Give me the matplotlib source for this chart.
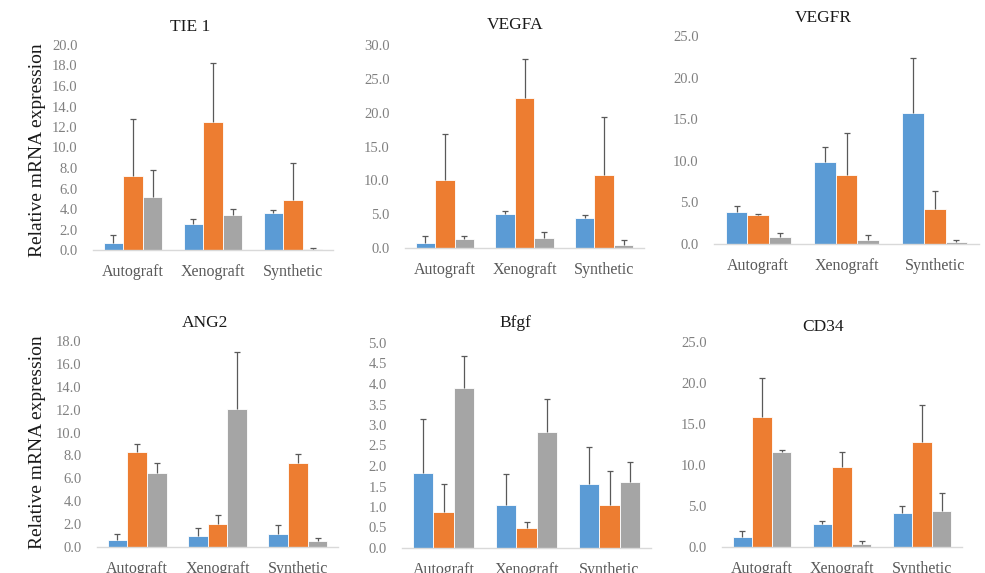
import matplotlib
matplotlib.use("Agg")
import matplotlib.pyplot as plt
import numpy as np

W, H = 985, 573
categories = ["Autograft", "Xenograft", "Synthetic"]
series_colors = ["#5B9BD5", "#ED7D31", "#A5A5A5"]

titles = ["TIE 1", "VEGFA", "VEGFR", "ANG2", "Bfgf", "CD34"]

# values per panel: [blue, orange, gray] x categories
tie1_vals = [[0.7, 2.5, 3.6], [7.2, 12.5, 4.9], [5.2, 3.4, 0.05]]
tie1_err = [[0.8, 0.5, 0.3], [5.6, 5.7, 3.6], [2.6, 0.6, 0.1]]

vegfa_vals = [[0.8, 5.0, 4.4], [10.1, 22.1, 10.8], [1.4, 1.5, 0.5]]
vegfa_err = [[0.9, 0.5, 0.5], [6.8, 5.9, 8.5], [0.4, 0.9, 0.7]]

vegfr_vals = [[3.9, 9.8, 15.8], [3.5, 8.3, 4.2], [0.8, 0.5, 0.2]]
vegfr_err = [[0.7, 1.8, 6.6], [0.1, 5.0, 2.2], [0.5, 0.6, 0.3]]

ang2_vals = [[0.6, 1.0, 1.1], [8.3, 2.0, 7.3], [6.5, 12.1, 0.5]]
ang2_err = [[0.5, 0.7, 0.8], [0.7, 0.8, 0.8], [0.8, 4.9, 0.3]]

bfgf_vals = [[1.83, 1.05, 1.55], [0.88, 0.48, 1.05], [3.9, 2.83, 1.6]]
bfgf_err = [[1.32, 0.75, 0.92], [0.69, 0.15, 0.82], [0.78, 0.8, 0.5]]

cd34_vals = [[1.2, 2.8, 4.2], [15.8, 9.8, 12.8], [11.6, 0.4, 4.4]]
cd34_err = [[0.8, 0.4, 0.8], [4.8, 1.8, 4.5], [0.2, 0.3, 2.2]]

y_max = [20, 30, 25, 18, 5, 25]
y_step = [2, 5, 5, 2, 0.5, 5]

all_vals = [tie1_vals, vegfa_vals, vegfr_vals, ang2_vals, bfgf_vals, cd34_vals]
all_errs = [tie1_err, vegfa_err, vegfr_err, ang2_err, bfgf_err, cd34_err]

# layout in pixels: (x_left, x_right, y_zero, y_top, title_x, title_y)
layout = [
    (93, 333, 250, 45, 190, 27),
    (405, 644, 248, 45, 515, 25),
    (714, 979, 244, 36, 823, 18),
    (97, 338, 547, 341, 205, 323),
    (402, 651, 548, 343, 515, 323),
    (722, 962, 547, 342, 823, 327),
]

serif = ["Liberation Serif", "DejaVu Serif"]
plt.rcParams["font.family"] = serif

fig = plt.figure(figsize=(W / 100, H / 100), dpi=100)

for i in range(6):
    xl, xr, y0, yt, tx, ty = layout[i]
    ax = fig.add_axes([xl / W, 1 - y0 / H, (xr - xl) / W, (y0 - yt) / H])
    vals = all_vals[i]
    errs = all_errs[i]
    x = np.arange(len(categories))
    bw = 0.245
    for s in range(3):
        pos = x + (s - 1) * bw
        ax.bar(pos, vals[s], width=bw, color=series_colors[s], edgecolor="white",
               linewidth=0.6, zorder=2)
        eb = ax.errorbar(pos, vals[s], yerr=[np.zeros(3), errs[s]], fmt="none",
                         ecolor="#595959", elinewidth=0.9, capsize=2, capthick=0.9,
                         zorder=3)
        caps = eb[1]
        if len(caps) >= 2:
            caps[0].set_visible(False)
    ax.set_xlim(-0.5, 2.5)
    ax.set_ylim(0, y_max[i])
    ax.set_yticks(np.arange(0, y_max[i] + y_step[i] / 2, y_step[i]))
    ax.yaxis.set_major_formatter(matplotlib.ticker.FormatStrFormatter("%.1f"))
    ax.set_xticks(x)
    ax.set_xticklabels(categories)
    for sp in ["top", "right", "left"]:
        ax.spines[sp].set_visible(False)
    ax.spines["bottom"].set_color("#D9D9D9")
    ax.spines["bottom"].set_linewidth(1.0)
    ax.tick_params(axis="y", length=0, pad=11, labelsize=10.5, labelcolor="#808080")
    ax.tick_params(axis="x", length=0, pad=10, labelsize=11.5, labelcolor="#595959")
    ax.patch.set_alpha(0)
    fig.text(tx / W, 1 - ty / H, titles[i], ha="center", va="center",
             fontsize=12.5, color="#1a1a1a")

fig.text(38 / W, 1 - 150 / H, "Relative mRNA expression", rotation=90,
         ha="center", va="center", fontsize=14, color="#1a1a1a")
fig.text(38 / W, 1 - 442 / H, "Relative mRNA expression", rotation=90,
         ha="center", va="center", fontsize=14, color="#1a1a1a")

fig.savefig("out.png", dpi=100)
